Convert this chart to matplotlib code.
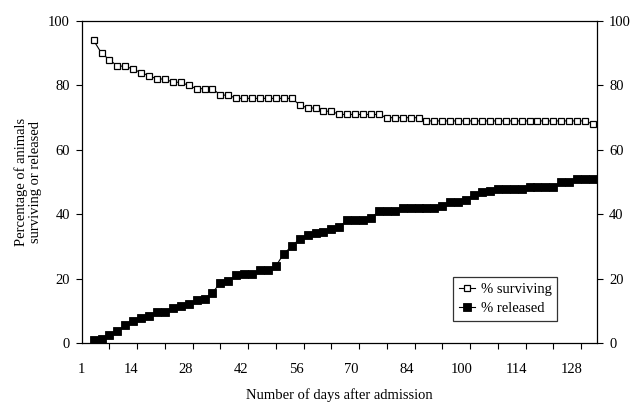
import matplotlib
matplotlib.use('Agg')
import matplotlib.pyplot as plt
from matplotlib.ticker import FixedLocator

# category positions of the data points (one point every second unit)
days = [3, 5, 7, 9, 11, 13, 15, 17, 19, 21, 23, 25, 27, 29, 31, 33,
        35, 37, 39, 41, 43, 45, 47, 49, 51, 53, 55, 57, 59, 61, 63, 65,
        67, 69, 71, 73, 75, 77, 79, 81, 83, 85, 87, 89, 91, 93, 95, 97,
        99, 101, 103, 105, 107, 109, 111, 113, 115, 117, 119, 121, 123, 125, 127, 129]

surviving = [94, 90, 88, 86, 86, 85, 84, 83, 82, 82, 81, 81, 80, 79, 79, 79,
             77, 77, 76, 76, 76, 76, 76, 76, 76, 76, 74, 73, 73, 72, 72, 71,
             71, 71, 71, 71, 71, 70, 70, 70, 70, 70, 69, 69, 69, 69, 69, 69,
             69, 69, 69, 69, 69, 69, 69, 69, 69, 69, 69, 69, 69, 69, 69, 68]

released = [0.9, 1.3, 2.5, 3.8, 5.6, 6.9, 7.9, 8.4, 9.6, 9.6, 11.0, 11.5, 12.3, 13.4, 13.8, 15.7,
            18.8, 19.3, 21.1, 21.5, 21.5, 22.8, 22.8, 24.0, 27.8, 30.1, 32.4, 33.7, 34.2, 34.6, 35.5, 36.1,
            38.3, 38.3, 38.3, 39.0, 40.9, 40.9, 40.9, 42.1, 42.1, 42.1, 42.1, 42.1, 42.6, 43.7, 43.7, 44.5,
            46.1, 46.8, 47.3, 47.9, 47.9, 47.9, 47.9, 48.4, 48.4, 48.4, 48.4, 50.2, 50.2, 51.1, 51.1, 51.1]

x_tick_labels = ['1', '14', '28', '42', '56', '70', '84', '100', '114', '128']
x_label_pos = [0.0, 12.4, 26.3, 40.2, 54.1, 68.0, 81.9, 95.8, 109.7, 123.6]
x_tick_marks = [0, 7, 14, 21, 28, 35, 42, 49, 56, 63, 70, 77, 84, 91, 98, 105, 112, 119, 126]
y_ticks = [0, 20, 40, 60, 80, 100]

plt.rcParams['font.family'] = ['Liberation Serif', 'DejaVu Serif']
plt.rcParams['font.size'] = 10.5

W, H = 642, 412
fig = plt.figure(figsize=(W / 100, H / 100), dpi=100)
L, R, T, B = 81.7, 597.3, 21.0, 343.3
ax = fig.add_axes([L / W, 1 - B / H, (R - L) / W, (B - T) / H])

ax.plot(days, surviving, color='black', lw=0.8, marker='s', ms=4.9,
        mfc='white', mec='black', mew=0.9, label='% surviving')
ax.plot(days, released, color='black', lw=0.8, marker='s', ms=5.4,
        mfc='black', mec='black', mew=0.6, label='% released')

ax.set_xlim(0, 130.1)
ax.set_ylim(0, 100)

ax.xaxis.set_major_locator(FixedLocator(x_label_pos))
ax.set_xticklabels(x_tick_labels)
ax.xaxis.set_minor_locator(FixedLocator(x_tick_marks))
ax.tick_params(axis='x', which='major', length=0, pad=14)
ax.tick_params(axis='x', which='minor', length=4.5, width=0.8, direction='out')

ax.set_yticks(y_ticks)
ax.tick_params(axis='y', which='major', length=4.5, width=0.8, direction='out',
               left=True, right=True, labelleft=True, labelright=True, pad=4)

for s in ax.spines.values():
    s.set_linewidth(0.9)
    s.set_color('black')

fig.text(339.5 / W, 1 - 395 / H, 'Number of days after admission',
         ha='center', va='center')
fig.text(28 / W, 1 - 182 / H, 'Percentage of animals\nsurviving or released',
         ha='center', va='center', rotation=90, linespacing=1.15)

leg = ax.legend(loc='upper left', bbox_to_anchor=(0.72, 0.205), frameon=True,
                fancybox=False, edgecolor='black', handlelength=1.1,
                handletextpad=0.4, borderpad=0.4, labelspacing=0.4,
                borderaxespad=0, fontsize=10.5)
leg.get_frame().set_linewidth(0.9)

fig.savefig('out.png', dpi=100)
